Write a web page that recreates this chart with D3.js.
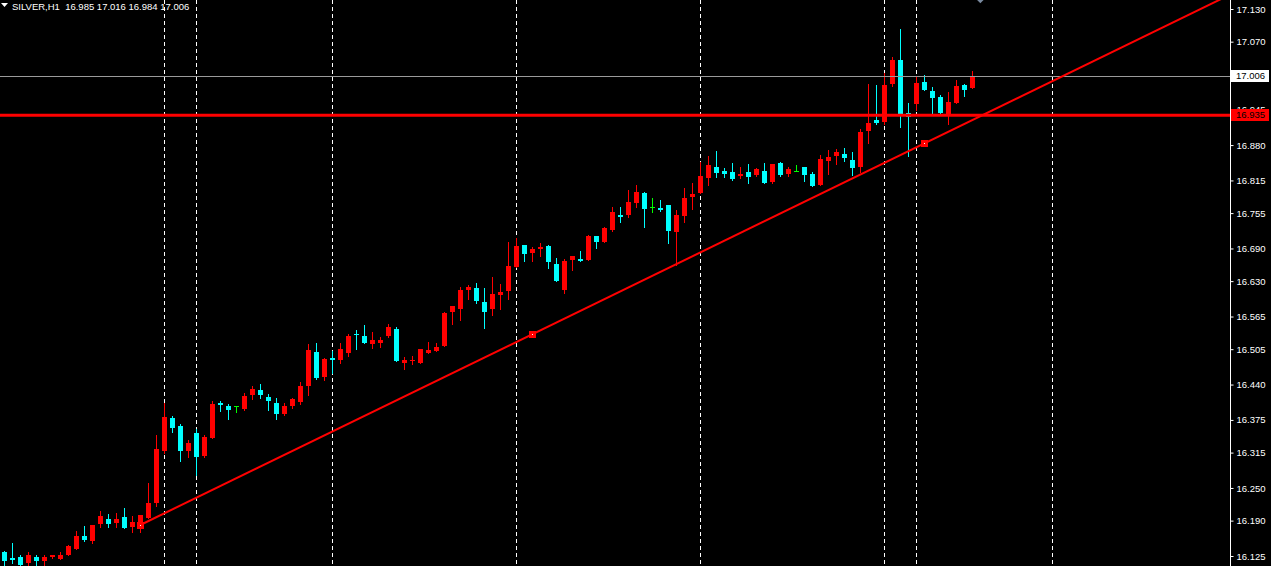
<!DOCTYPE html>
<html><head><meta charset="utf-8">
<script src="https://cdn.jsdelivr.net/npm/d3@7"></script>
<style>html,body{margin:0;padding:0;background:#000;overflow:hidden}</style>
</head><body><svg id="c" width="1271" height="566"></svg>
<script>
const symbol = "SILVER,H1";
const headerValues = ["16.985", "17.016", "16.984", "17.006"];
const opens = [16.133,16.122,16.123,16.113,16.123,16.116,16.124,16.119,16.126,16.138,
16.162,16.153,16.184,16.193,16.186,16.197,16.179,16.175,16.195,16.222,
16.318,16.379,16.364,16.317,16.351,16.309,16.342,16.406,16.401,16.400,
16.395,16.421,16.430,16.417,16.406,16.386,16.401,16.408,16.437,16.500,
16.454,16.489,16.485,16.498,16.533,16.529,16.515,16.516,16.529,16.542,
16.480,16.483,16.480,16.498,16.502,16.511,16.574,16.579,16.614,16.617,
16.592,16.579,16.605,16.612,16.656,16.696,16.682,16.689,16.695,16.661,
16.614,16.669,16.671,16.669,16.713,16.702,16.724,16.751,16.751,16.774,
16.792,16.766,16.764,16.770,16.720,16.750,16.785,16.792,16.819,16.840,
16.832,16.830,16.823,16.830,16.825,16.832,16.812,16.847,16.827,16.832,
16.840,16.827,16.807,16.851,16.860,16.864,16.853,16.840,16.906,16.926,
16.922,16.992,17.036,16.939,16.955,16.996,16.979,16.968,16.937,16.957,
16.990,16.985];
const highs = [16.135,16.149,16.126,16.132,16.126,16.126,16.126,16.132,16.145,16.171,
16.180,16.182,16.207,16.202,16.204,16.213,16.199,16.200,16.259,16.347,
16.407,16.382,16.368,16.338,16.358,16.347,16.410,16.410,16.404,16.400,
16.424,16.437,16.441,16.423,16.415,16.406,16.415,16.445,16.515,16.516,
16.489,16.502,16.516,16.533,16.540,16.549,16.537,16.527,16.551,16.546,
16.491,16.492,16.505,16.518,16.516,16.573,16.584,16.619,16.623,16.627,
16.617,16.638,16.625,16.702,16.709,16.696,16.693,16.700,16.696,16.673,
16.671,16.676,16.685,16.715,16.713,16.729,16.766,16.766,16.797,16.807,
16.794,16.783,16.779,16.770,16.761,16.801,16.810,16.849,16.860,16.869,
16.838,16.847,16.840,16.845,16.838,16.847,16.845,16.849,16.840,16.843,
16.840,16.830,16.862,16.871,16.873,16.875,16.867,16.910,16.992,16.990,
17.012,17.042,17.093,16.957,17.007,17.009,16.987,16.972,16.977,17.000,
16.992,17.016];
const lows = [16.108,16.113,16.107,16.107,16.109,16.107,16.122,16.119,16.126,16.138,
16.152,16.149,16.179,16.179,16.179,16.177,16.170,16.170,16.195,16.217,
16.314,16.352,16.300,16.307,16.274,16.306,16.342,16.391,16.377,16.390,
16.393,16.413,16.415,16.393,16.377,16.384,16.397,16.404,16.421,16.450,
16.448,16.461,16.480,16.492,16.505,16.516,16.507,16.509,16.527,16.483,
16.469,16.478,16.480,16.498,16.502,16.511,16.552,16.559,16.598,16.589,
16.544,16.568,16.579,16.598,16.656,16.667,16.667,16.676,16.654,16.630,
16.608,16.650,16.667,16.669,16.691,16.702,16.722,16.739,16.748,16.766,
16.729,16.757,16.759,16.700,16.660,16.739,16.763,16.792,16.807,16.821,
16.821,16.816,16.819,16.810,16.823,16.810,16.810,16.823,16.823,16.832,
16.814,16.805,16.807,16.827,16.845,16.851,16.825,16.831,16.884,16.919,
16.919,16.989,16.913,16.860,16.944,16.981,16.935,16.939,16.919,16.957,
16.970,16.984];
const closes = [16.115,16.118,16.108,16.126,16.116,16.123,16.126,16.127,16.143,16.162,
16.154,16.182,16.199,16.184,16.193,16.177,16.187,16.200,16.222,16.322,
16.380,16.361,16.318,16.333,16.307,16.344,16.404,16.402,16.393,16.400,
16.419,16.432,16.421,16.410,16.386,16.401,16.413,16.437,16.503,16.452,
16.487,16.485,16.505,16.529,16.531,16.516,16.522,16.522,16.546,16.483,
16.485,16.485,16.505,16.503,16.509,16.571,16.584,16.614,16.619,16.594,
16.574,16.606,16.610,16.658,16.695,16.680,16.689,16.693,16.665,16.630,
16.667,16.676,16.667,16.713,16.702,16.728,16.757,16.748,16.775,16.794,
16.763,16.766,16.761,16.722,16.751,16.783,16.790,16.823,16.843,16.829,
16.827,16.818,16.827,16.821,16.836,16.810,16.845,16.825,16.836,16.832,
16.825,16.805,16.854,16.858,16.867,16.856,16.838,16.904,16.921,16.921,
16.990,17.036,16.937,16.932,16.994,16.981,16.966,16.939,16.959,16.989,
16.981,17.006];
const tickValues = [17.130,17.070,16.945,16.880,16.815,16.755,16.690,16.630,16.565,
16.505,16.440,16.375,16.315,16.250,16.190,16.125];
const separatorBars = [20,24,41,64,87,110,114,131];
const bidPrice = 17.006;
const levelPrice = 16.935;
const trendBars = [17, 115];
const trendPrices = [16.182, 16.883];
const arrowBar = 122, arrowPrice = 17.148;

const W = 1271, H = 566, axisX = 1230;
const svg = d3.select("#c");
svg.append("rect").attr("width", W).attr("height", H).attr("fill", "#000");
const x = d3.scaleLinear().domain([0, 121]).range([4.33, 972.33]);
const y = d3.scaleLinear().domain([16.125, 17.130]).range([556, 9]);
const font = "'Liberation Sans', Arial, sans-serif";

svg.append("defs").append("clipPath").attr("id", "plot")
  .append("rect").attr("x", 0).attr("y", 0).attr("width", axisX).attr("height", H);
const plot = svg.append("g").attr("clip-path", "url(#plot)");

// period separators
plot.selectAll("line.sep").data(separatorBars).join("line")
  .attr("class", "sep")
  .attr("x1", d => Math.round(x(d)) + 0.5).attr("x2", d => Math.round(x(d)) + 0.5)
  .attr("y1", 0).attr("y2", H)
  .attr("stroke", "#fff").attr("stroke-width", 1).attr("stroke-dasharray", "4,3");

// candles
const bars = d3.range(opens.length).map(i => ({i, o: opens[i], h: highs[i], l: lows[i], c: closes[i]}));
const col = d => d.c > d.o ? "#ff0000" : (d.c < d.o ? "#00ffff" : "#00ff00");
const cg = plot.append("g").attr("shape-rendering", "crispEdges");
cg.selectAll("rect.wick").data(bars).join("rect")
  .attr("class", "wick")
  .attr("x", d => Math.round(x(d.i)))
  .attr("y", d => Math.round(y(d.h)))
  .attr("width", 1)
  .attr("height", d => Math.max(1, Math.round(y(d.l)) - Math.round(y(d.h)) + 1))
  .attr("fill", col);
cg.selectAll("rect.body").data(bars).join("rect")
  .attr("class", "body")
  .attr("x", d => Math.round(x(d.i)) - 2)
  .attr("y", d => Math.round(y(Math.max(d.o, d.c))))
  .attr("width", 5)
  .attr("height", d => Math.max(1, Math.round(y(Math.min(d.o, d.c))) - Math.round(y(Math.max(d.o, d.c)))))
  .attr("fill", col);

// bid line
plot.append("line").attr("x1", 0).attr("x2", axisX)
  .attr("y1", Math.round(y(bidPrice)) + 0.5).attr("y2", Math.round(y(bidPrice)) + 0.5)
  .attr("stroke", "#9a9a9a").attr("stroke-width", 1);
// horizontal level
plot.append("line").attr("x1", 0).attr("x2", axisX)
  .attr("y1", y(levelPrice)).attr("y2", y(levelPrice))
  .attr("stroke", "#ff0000").attr("stroke-width", 3);

// trendline (ray)
const slope = (trendPrices[1] - trendPrices[0]) / (trendBars[1] - trendBars[0]);
const endBar = 170;
plot.append("line")
  .attr("x1", x(trendBars[0])).attr("y1", y(trendPrices[0]))
  .attr("x2", x(endBar)).attr("y2", y(trendPrices[0] + slope * (endBar - trendBars[0])))
  .attr("stroke", "#ff0000").attr("stroke-width", 2);
const midBar = (trendBars[0] + trendBars[1]) / 2;
const markers = [trendBars[0], midBar, trendBars[1]].map(b => ({b, p: trendPrices[0] + slope * (b - trendBars[0])}));
plot.selectAll("rect.mk").data(markers).join("rect")
  .attr("class", "mk")
  .attr("x", d => Math.round(x(d.b)) - 3).attr("y", d => Math.round(y(d.p)) - 3)
  .attr("width", 7).attr("height", 7).attr("fill", "#ff0000").attr("shape-rendering", "crispEdges");
plot.selectAll("rect.mkd").data(markers).join("rect")
  .attr("class", "mkd")
  .attr("x", d => Math.round(x(d.b))).attr("y", d => Math.round(y(d.p)))
  .attr("width", 1).attr("height", 1).attr("fill", "#fff").attr("shape-rendering", "crispEdges");

// small arrow object at top
const ax = x(arrowBar), ay = y(arrowPrice);
plot.append("path")
  .attr("d", `M${ax - 4},${ay} L${ax},${ay - 4} L${ax + 4},${ay} L${ax},${ay + 4} Z`)
  .attr("fill", "#7a8aa0");

// right axis
svg.append("line").attr("x1", axisX + 0.5).attr("x2", axisX + 0.5).attr("y1", 0).attr("y2", H)
  .attr("stroke", "#fff").attr("stroke-width", 1);
const axis = d3.axisRight(y).tickValues(tickValues).tickSize(3).tickPadding(3)
  .tickFormat(d3.format(".3f"));
const ag = svg.append("g").attr("transform", `translate(${axisX + 0.5},0)`).call(axis);
ag.select(".domain").remove();
ag.selectAll(".tick line").attr("stroke", "#fff");
ag.selectAll(".tick text").attr("fill", "#fff").attr("font-family", font).attr("font-size", "9.5px");

// price labels
const labels = [{p: bidPrice, bg: "#ffffff"}, {p: levelPrice, bg: "#ff0000"}];
labels.forEach(l => {
  const yy = Math.round(y(l.p));
  svg.append("rect").attr("x", axisX + 1).attr("y", yy - 6).attr("width", 38).attr("height", 12)
    .attr("fill", l.bg).attr("shape-rendering", "crispEdges");
  svg.append("text").attr("x", axisX + 6).attr("y", yy).attr("dy", "0.35em")
    .attr("fill", "#000").attr("font-family", font).attr("font-size", "9.5px")
    .text(d3.format(".3f")(l.p));
});

// header
svg.append("path").attr("d", "M1,3 L8,3 L4.5,7 Z").attr("fill", "#fff");
svg.append("text").attr("x", 12).attr("y", 9.5)
  .attr("fill", "#fff").attr("font-family", font).attr("font-size", "9.5px")
  .style("white-space", "pre")
  .text(symbol + "  " + headerValues.join(" "));
</script></body></html>
